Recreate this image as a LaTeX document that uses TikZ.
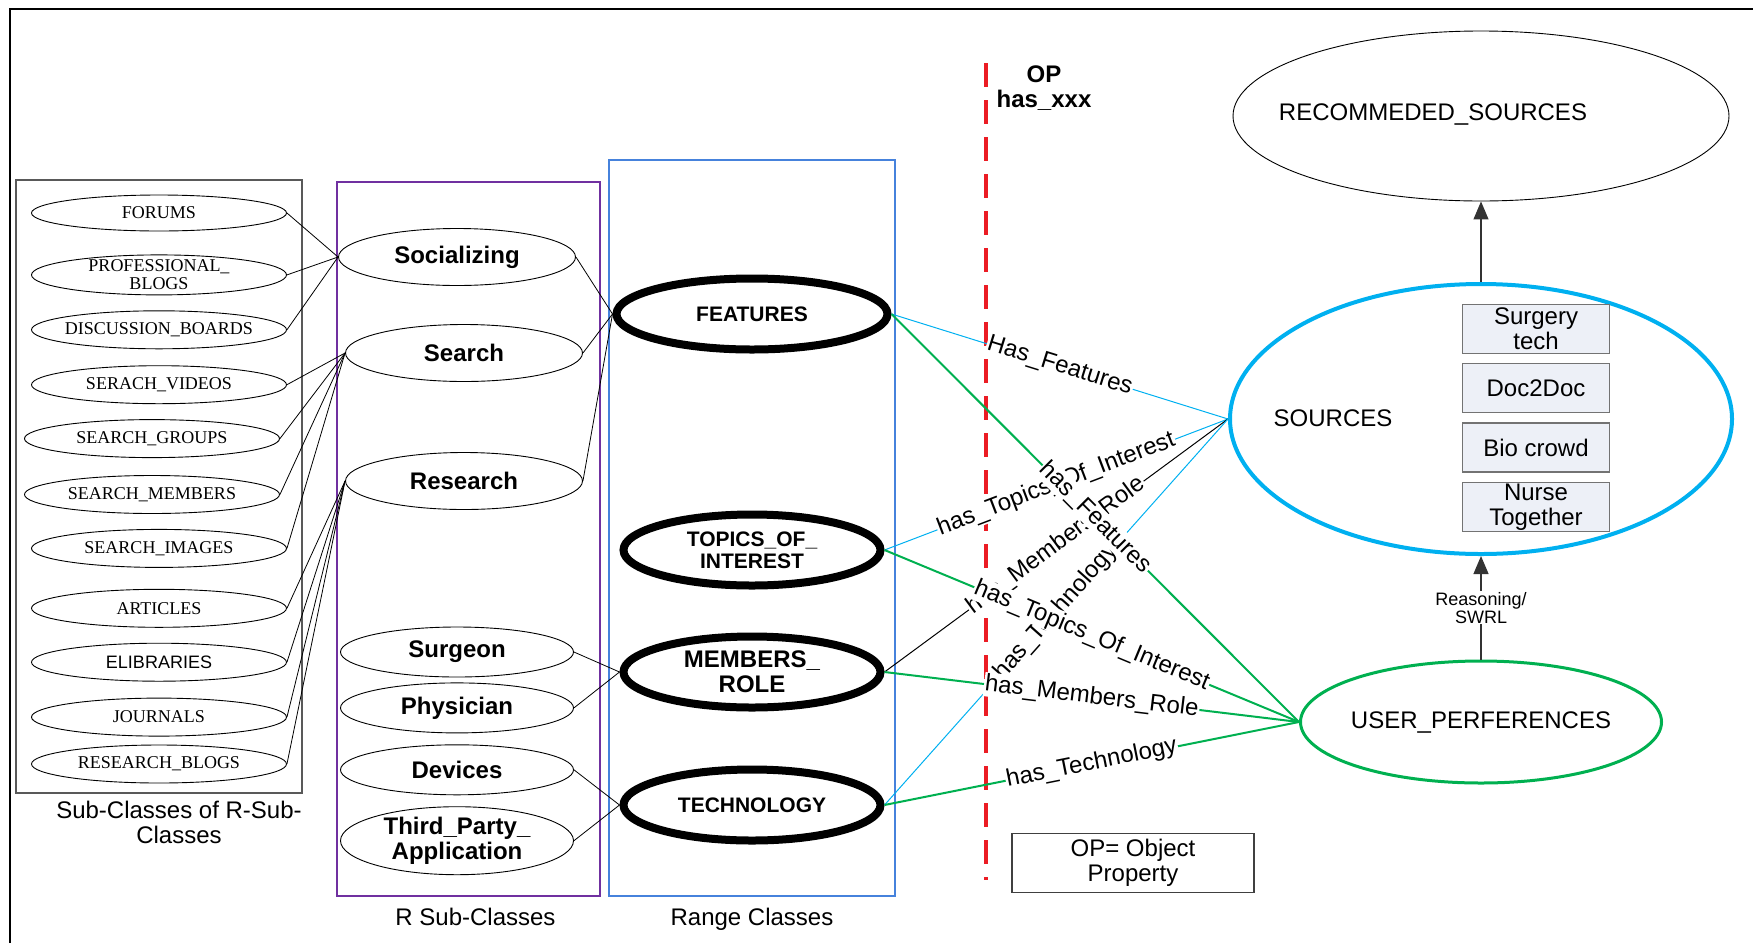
\documentclass[tikz,border=0pt]{standalone}
\usepackage{fontspec}
\setmainfont{Liberation Sans}
\newfontfamily\serifface{Liberation Serif}
\usetikzlibrary{shapes.geometric, arrows.meta, positioning, fit, backgrounds}

\definecolor{srccyan}{RGB}{0,176,240}
\definecolor{prefgreen}{RGB}{0,176,80}
\definecolor{rsubpurple}{RGB}{112,48,160}
\definecolor{rangeblue}{RGB}{70,130,220}
\definecolor{opred}{RGB}{235,28,36}
\definecolor{srcfill}{RGB}{237,240,247}

\begin{document}
\begin{tikzpicture}[x=1pt, y=-1pt,
    subbox/.style={ellipse, draw, line width=0.9pt, inner ysep=0pt, inner xsep=-8pt, align=center,
                   minimum width=255pt, minimum height=38pt,
                   font=\serifface\fontsize{18}{18}\selectfont},
    rsubbox/.style={ellipse, draw, line width=0.9pt, inner sep=0pt, align=center,
                   minimum width=233pt, minimum height=50pt,
                   font=\bfseries\fontsize{24}{25}\selectfont},
    rangebox/.style={ellipse, draw, line width=8pt, inner sep=0pt, align=center,
                   minimum width=257pt, minimum height=71pt,
                   font=\bfseries\fontsize{21}{22}\selectfont},
    srcbox/.style={rectangle, draw=black!55, line width=1.3pt, fill=srcfill, inner sep=0pt,
                   align=center, minimum width=147pt, minimum height=49pt,
                   font=\fontsize{24}{25}\selectfont},
    grp/.style={rectangle, line width=1.8pt, inner sep=0pt},
    grplabel/.style={font=\fontsize{24}{25}\selectfont, align=center, inner sep=2pt},
    bigtext/.style={font=\fontsize{24}{25}\selectfont, align=center},
    link/.style={line width=0.8pt},
    oplink/.style={line width=1pt},
    oplabel/.style={sloped, midway, fill=white, inner sep=1pt, text=black,
                    font=\fontsize{24}{25}\selectfont},
    arr/.style={-{Triangle[width=15pt, length=18pt]}, line width=1.2pt, draw=black!80}
]
\useasboundingbox (0,0) rectangle (1753,943);

% frame
\draw[line width=2.5pt] (10,943) -- (10,9) -- (1753,9);

%% ===== OP separator =====
\coordinate (optop) at (986,63);
\coordinate (opbot) at (986,880);
\draw[opred, line width=3.2pt, dash pattern=on 24pt off 13pt] (optop) -- (opbot);
\node[font=\bfseries\fontsize{24}{25}\selectfont, align=center] (opnote) at (1044,88) {OP\\has\_xxx};

%% ===== Sub-classes of R sub-classes =====
\node[subbox, minimum height=36pt] (forums) at (159,213) {FORUMS};
\node[subbox, minimum height=40pt, inner ysep=-5pt, below=23pt of forums] (problogs) {PROFESSIONAL\_\\BLOGS};
\node[subbox, below=15pt of problogs] (discboards) {DISCUSSION\_BOARDS};
\node[subbox, below=16pt of discboards] (videos) {SERACH\_VIDEOS};
\node[subbox, below=15pt of videos, xshift=-7pt] (groups) {SEARCH\_GROUPS};
\node[subbox, below=17pt of groups] (smembers) {SEARCH\_MEMBERS};
\node[subbox, below=15pt of smembers, xshift=7pt] (images) {SEARCH\_IMAGES};
\node[subbox, below=21pt of images] (articles) {ARTICLES};
\node[subbox, below=15pt of articles, font=\fontsize{18}{18}\selectfont] (elib) {ELIBRARIES};
\node[subbox, below=16pt of elib] (journals) {JOURNALS};
\node[subbox, below=8pt of journals] (rblogs) {RESEARCH\_BLOGS};

%% ===== R sub-classes =====
\node[rsubbox, minimum width=237pt, minimum height=57pt] (social)   at (457,257) {Socializing};
\node[rsubbox, minimum width=237pt, minimum height=57pt] (search)   at (464,353) {Search};
\node[rsubbox, minimum width=237pt, minimum height=57pt] (research) at (464,481) {Research};
\node[rsubbox] (surgeon) at (457,652) {Surgeon};
\node[rsubbox, below=5pt of surgeon]   (physician)  {Physician};
\node[rsubbox, below=11pt of physician] (devices)   {Devices};
\node[rsubbox, minimum height=68pt, below=11pt of devices] (thirdparty) {Third\_Party\_\\Application};

%% ===== Range classes =====
\node[rangebox, minimum width=271pt] (features) at (752,314) {FEATURES};
\node[rangebox] (topics) at (752,550) {TOPICS\_OF\_\\INTEREST};
\node[rangebox, font=\bfseries\fontsize{24}{25}\selectfont] (membrole) at (752,672) {MEMBERS\_\\ROLE};
\node[rangebox] (technology) at (752,805) {TECHNOLOGY};

%% ===== Sources, preferences, recommendations =====
\node[ellipse, draw, line width=0.9pt, minimum width=496pt, minimum height=170pt] (recom) at (1481,116) {};
\node[bigtext] (recomlabel) at (1433,115) {RECOMMEDED\_SOURCES};
\node[ellipse, draw=srccyan, line width=4pt, minimum width=502pt, minimum height=270pt] (sources) at (1481,419) {};
\node[bigtext] (srclabel) at (1333,418) {SOURCES};
\node[srcbox] (surgtech) at (1536,329) {Surgery\\tech};
\node[srcbox, below=9pt of surgtech] (doc2doc)  {Doc2Doc};
\node[srcbox, below=9pt of doc2doc]  (biocrowd) {Bio crowd};
\node[srcbox, below=9pt of biocrowd] (nurse)    {Nurse\\Together};
\node[ellipse, draw=prefgreen, line width=3pt, minimum width=361pt, minimum height=122pt,
      inner xsep=-4pt, inner ysep=0pt, bigtext] (userpref) at (1481,722) {USER\_PERFERENCES};

\node[draw=black!75, line width=1.2pt, minimum width=242pt, minimum height=59pt, bigtext] (legend) at (1133,863) {OP= Object\\Property};

%% ===== GROUP BOXES =====
\begin{scope}[on background layer]
  \node[grp, draw=black!65, fit={(16,180) (302,793)},
        label={[grplabel, xshift=20pt, label distance=5pt]below:Sub-Classes of R-Sub-\\Classes}] (subgrp) {};
  \node[grp, draw=rsubpurple, fit={(337,182) (600,896)},
        label={[grplabel, xshift=7pt, label distance=9pt]below:R Sub-Classes}] (rsubgrp) {};
  \node[grp, draw=rangeblue, fit={(609,160) (895,896)},
        label={[grplabel, label distance=9pt]below:Range Classes}] (rangegrp) {};
\end{scope}

%% ===== ARROWS: sub-classes to R sub-classes =====
\draw[link] (forums.east)     -- (social.west);
\draw[link] (problogs.east)   -- (social.west);
\draw[link] (discboards.east) -- (social.west);
\draw[link] (videos.east)     -- (search.west);
\draw[link] (groups.east)     -- (search.west);
\draw[link] (smembers.east)   -- (search.west);
\draw[link] (images.east)     -- (search.west);
\draw[link] (articles.east)   -- (research.west);
\draw[link] (elib.east)       -- (research.west);
\draw[link] (journals.east)   -- (research.west);
\draw[link] (rblogs.east)     -- (research.west);

%% ===== ARROWS: R sub-classes to range classes =====
\draw[link] (social.east)     -- (features.west);
\draw[link] (search.east)     -- (features.west);
\draw[link] (research.east)   -- (features.west);
\draw[link] (surgeon.east)    -- (membrole.west);
\draw[link] (physician.east)  -- (membrole.west);
\draw[link] (devices.east)    -- (technology.west);
\draw[link] (thirdparty.east) -- (technology.west);

%% ===== OBJECT PROPERTIES: range classes to sources =====
\draw[oplink, srccyan] (features.east)   -- node[oplabel] {Has\_Features} (sources.west);
\draw[oplink, srccyan] (topics.east)     -- node[oplabel] {has\_Topics\_Of\_Interest} (sources.west);
\draw[oplink]          (membrole.east)   -- node[oplabel] {has\_Members\_Role} (sources.west);
\draw[oplink, srccyan] (technology.east) -- node[oplabel] {has\_Technology} (sources.west);

%% ===== OBJECT PROPERTIES: range classes to user preferences =====
\draw[line width=2pt, prefgreen] (features.east)   -- node[oplabel] {has\_Features} (userpref.west);
\draw[line width=2pt, prefgreen] (topics.east)     -- node[oplabel] {has\_Topics\_Of\_Interest} (userpref.west);
\draw[line width=2pt, prefgreen] (membrole.east)   -- node[oplabel] {has\_Members\_Role} (userpref.west);
\draw[line width=2pt, prefgreen] (technology.east) -- node[oplabel] {has\_Technology} (userpref.west);

%% ===== REASONING =====
\draw[arr] (sources.north) -- (recom.south);
\draw[arr] (userpref.north) -- node[fill=white, inner sep=1pt, align=center,
      font=\fontsize{18}{18}\selectfont] {Reasoning/\\SWRL} (sources.south);

\end{tikzpicture}
\end{document}
